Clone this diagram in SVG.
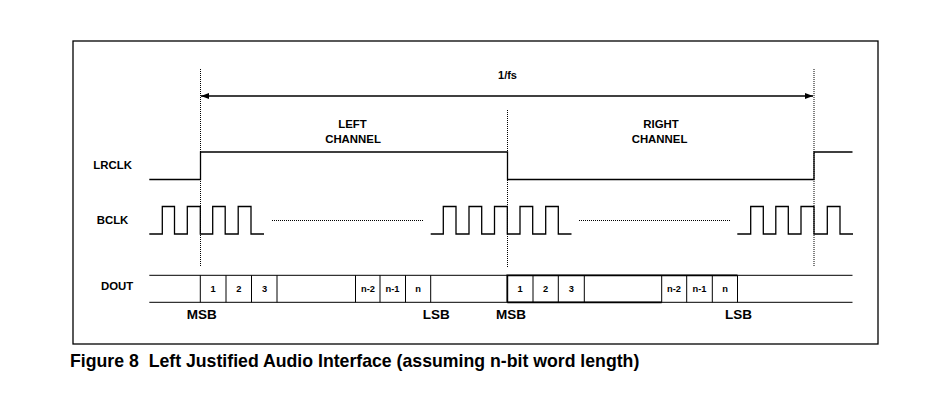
<svg xmlns="http://www.w3.org/2000/svg" width="947" height="400" viewBox="0 0 947 400">
<defs>
<style>
text{font-family:"Liberation Sans",Arial,sans-serif;font-weight:bold;fill:#000}
.sig{font-size:11.4px}
.cell{font-size:9.3px;text-anchor:middle}
.bit{font-size:13.5px}
.cap{font-size:17.7px;white-space:pre}
.wave{fill:none;stroke:#000;stroke-width:1.3}
.dot{fill:none;stroke:#000;stroke-width:1;stroke-dasharray:1 1}
.thin{fill:none;stroke:#000;stroke-width:1}
</style>
<marker id="ah" viewBox="0 0 8 6" refX="8" refY="3" markerWidth="8" markerHeight="6" markerUnits="userSpaceOnUse" orient="auto-start-reverse">
<path d="M0,0 L8,3 L0,6 Z" fill="#000"/>
</marker>
</defs>
<rect width="947" height="400" fill="#fff"/>
<rect id="frame" x="73" y="41" width="805" height="303" fill="none" stroke="#000" stroke-width="1.3"/>

<g id="connectors">
<path class="dot" d="M200.5,69 V267 M507.5,110 V267 M814,69 V267"/>
<line x1="201" y1="96" x2="813" y2="96" stroke="#000" stroke-width="1.3" marker-start="url(#ah)" marker-end="url(#ah)"/>
<path class="dot" d="M272,220.5 H424 M579,220.5 H731"/>
</g>

<g id="period-label">
<text class="sig" x="507.5" y="79" text-anchor="middle" style="font-size:11px">1/fs</text>
</g>

<g id="left-channel-label">
<text class="sig" x="352.5" y="128.3" text-anchor="middle">LEFT</text>
<text class="sig" x="353" y="143.3" text-anchor="middle">CHANNEL</text>
</g>
<g id="right-channel-label">
<text class="sig" x="661" y="128.3" text-anchor="middle">RIGHT</text>
<text class="sig" x="659.5" y="143.3" text-anchor="middle">CHANNEL</text>
</g>

<g id="lrclk">
<text class="sig" x="93.3" y="169.2">LRCLK</text>
<path class="wave" d="M149.3,179.5 H200.5 V152 H507.5 V179.5 H814 V152 H852.5"/>
</g>

<g id="bclk">
<text class="sig" x="96.7" y="224">BCLK</text>
<path class="wave" d="M149.3,234 H162.3 V206.5 H174.5 V234 H187.3 V206.5 H200.3 V234 H212.7 V206.5 H225.2 V234 H238.2 V206.5 H251 V234 H264"/>
<path class="wave" d="M430.7,234 H443.3 V206.5 H456 V234 H469 V206.5 H481.7 V234 H494.5 V206.5 H507.3 V234 H520 V206.5 H532.7 V234 H545.7 V206.5 H558.3 V234 H571.5"/>
<path class="wave" d="M737.3,234 H750.7 V206.5 H763.3 V234 H775.8 V206.5 H788.3 V234 H801 V206.5 H814 V234 H827.3 V206.5 H840 V234 H853"/>
</g>

<g id="dout">
<text class="sig" x="101" y="290">DOUT</text>
<path class="thin" d="M149.3,275.3 H852.5 M149.3,302.3 H852.5"/>
<path class="thin" d="M200.3,275.3 V302.3 M226,275.3 V302.3 M251.5,275.3 V302.3 M277,275.3 V302.3 M355.5,275.3 V302.3 M380,275.3 V302.3 M405.5,275.3 V302.3 M430.7,275.3 V302.3"/>
<path class="thin" d="M533,275.3 V302.3 M558.3,275.3 V302.3 M584.3,275.3 V302.3 M661.7,275.3 V302.3 M686.7,275.3 V302.3 M712.3,275.3 V302.3 M737.5,275.3 V302.3"/>
<path fill="none" stroke="#000" stroke-width="1.8" d="M507.3,302.3 V275.3 H737.5 M507.3,302.3 H661.7"/>
<text class="cell" x="213.2" y="292">1</text>
<text class="cell" x="238.8" y="292">2</text>
<text class="cell" x="264.5" y="292">3</text>
<text class="cell" x="368" y="292">n-2</text>
<text class="cell" x="392.5" y="292">n-1</text>
<text class="cell" x="418" y="292">n</text>
<text class="cell" x="520.2" y="292">1</text>
<text class="cell" x="545.7" y="292">2</text>
<text class="cell" x="571.3" y="292">3</text>
<text class="cell" x="674" y="292">n-2</text>
<text class="cell" x="699.5" y="292">n-1</text>
<text class="cell" x="725" y="292">n</text>
</g>

<g id="bit-labels">
<text class="bit" x="186.7" y="319">MSB</text>
<text class="bit" x="422.7" y="319">LSB</text>
<text class="bit" x="496" y="319">MSB</text>
<text class="bit" x="725" y="319">LSB</text>
</g>

<g id="caption">
<text class="cap" x="70" y="366.6" xml:space="preserve">Figure 8  Left Justified Audio Interface (assuming n-bit word length)</text>
</g>
</svg>
